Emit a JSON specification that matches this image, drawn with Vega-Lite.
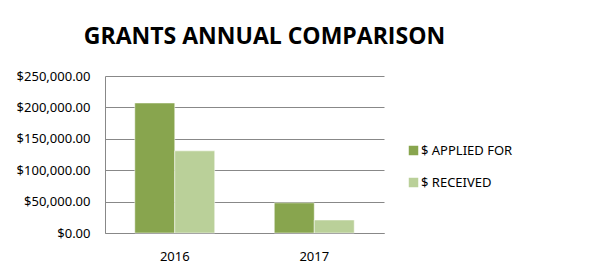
{
  "$schema": "https://vega.github.io/schema/vega-lite/v6.json",
  "autosize": {"type": "none"},
  "width": 279,
  "height": 157,
  "padding": {"left": 105, "top": 76, "right": 221, "bottom": 40},
  "background": "white",
  "title": {
    "text": "GRANTS ANNUAL COMPARISON",
    "font": "Open Sans",
    "fontSize": 23,
    "fontWeight": "bold",
    "color": "#000000",
    "anchor": "middle",
    "dx": 20,
    "offset": 21
  },
  "data": {
    "values": [
      {"year": "2016", "type": "$ APPLIED FOR", "value": 207000},
      {"year": "2016", "type": "$ RECEIVED", "value": 130800},
      {"year": "2017", "type": "$ APPLIED FOR", "value": 48000},
      {"year": "2017", "type": "$ RECEIVED", "value": 20700}
    ]
  },
  "mark": {"type": "bar", "stroke": "white", "strokeWidth": 0.5},
  "encoding": {
    "x": {
      "field": "year", "type": "nominal",
      "scale": {"paddingInner": 0.427, "paddingOuter": 0.2135},
      "axis": {"title": null, "labelAngle": 0, "ticks": false, "domain": true, "domainColor": "#888888", "labelPadding": 17, "labelFont": "Noto Sans", "labelFontSize": 13, "labelColor": "#000000"}
    },
    "xOffset": {"field": "type", "type": "nominal", "scale": {"paddingInner": 0}},
    "y": {
      "field": "value", "type": "quantitative",
      "scale": {"domain": [0, 250000], "nice": false},
      "axis": {"title": null, "values": [0, 50000, 100000, 150000, 200000, 250000], "format": "$,.2f", "ticks": false, "domain": true, "domainColor": "#888888", "gridColor": "#888888", "gridOpacity": 1, "labelPadding": 15, "labelFont": "Noto Sans", "labelFontSize": 13, "labelColor": "#000000"}
    },
    "color": {
      "field": "type", "type": "nominal",
      "scale": {"range": ["#88A54E", "#BAD099"]},
      "legend": {"title": null, "orient": "none", "legendX": 302, "legendY": 68, "symbolType": "square", "symbolSize": 90, "symbolStrokeWidth": 0, "symbolOpacity": 1, "labelFont": "Noto Sans", "labelFontSize": 13, "labelColor": "#000000", "rowPadding": 18, "labelOffset": 1}
    }
  },
  "config": {"view": {"stroke": null}}
}
